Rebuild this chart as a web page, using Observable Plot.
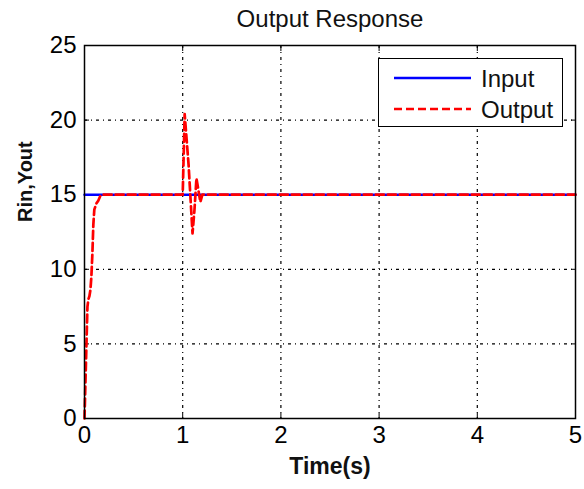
<!DOCTYPE html>
<html>
<head>
<meta charset="utf-8">
<script src="https://cdn.jsdelivr.net/npm/d3@7"></script>
<script src="https://cdn.jsdelivr.net/npm/@observablehq/plot@0.6"></script>
<style>
  body { margin: 0; background: #fff; }
  #wrap { position: relative; width: 584px; height: 489px; font-family: "Liberation Sans", Arial, sans-serif; }
  #legend { position: absolute; left: 378px; top: 58px; width: 185px; height: 69px; border: 1.5px solid #000; background: #fff; box-sizing: border-box; }
  #legend svg { position: absolute; left: 0; top: 0; }
</style>
</head>
<body>
<div id="wrap"></div>
<script>
// Data
const inputTime = [0, 5];
const inputValue = [15, 15];
const outputTime = [0, 0.01, 0.02, 0.03, 0.04, 0.05, 0.06, 0.07, 0.08, 0.09, 0.10, 0.11, 0.12, 0.14, 0.16, 0.18, 0.20, 0.5, 1.0, 1.02, 1.06, 1.10, 1.12, 1.14, 1.16, 1.18, 1.20, 1.25, 5];
const outputValue = [0, 2.5, 5, 7.5, 8, 8.2, 8.6, 9.5, 11, 13, 14, 14.2, 14.4, 14.6, 14.9, 15, 15, 15, 15, 20.4, 17, 12.4, 14, 16.1, 15.3, 14.5, 15, 15, 15];
const xTicks = [0, 1, 2, 3, 4, 5];
const yTicks = [0, 5, 10, 15, 20, 25];
const seriesNames = ["Input", "Output"];
const seriesColors = ["#0000ff", "#ff0000"];

const inputData = inputTime.map((t, i) => ({t, v: inputValue[i]}));
const outputData = outputTime.map((t, i) => ({t, v: outputValue[i]}));

const font = "Liberation Sans, Arial, sans-serif";
const gridDash = "3,4,1,4";

const chart = Plot.plot({
  width: 584,
  height: 489,
  marginLeft: 84,
  marginRight: 9,
  marginTop: 45,
  marginBottom: 71,
  style: {fontFamily: font, fontSize: "24px", color: "#000", background: "#fff"},
  x: {domain: [0, 5]},
  y: {domain: [0, 25]},
  marks: [
    Plot.ruleX(xTicks.slice(1, -1), {stroke: "#000", strokeWidth: 1.2, strokeDasharray: gridDash}),
    Plot.ruleY(yTicks.slice(1, -1), {stroke: "#000", strokeWidth: 1.2, strokeDasharray: gridDash}),
    Plot.axisX({anchor: "bottom", ticks: xTicks, tickSize: -5, tickPadding: 12, tickFormat: d3.format("d"), label: null, fontSize: 24}),
    Plot.axisX({anchor: "top", ticks: xTicks, tickSize: -5, tickFormat: () => "", label: null}),
    Plot.axisY({anchor: "left", ticks: yTicks, tickSize: -5, tickPadding: 13, tickFormat: d3.format("d"), label: null, fontSize: 24}),
    Plot.axisY({anchor: "right", ticks: yTicks, tickSize: -5, tickFormat: () => "", label: null}),
    Plot.line(inputData, {x: "t", y: "v", stroke: seriesColors[0], strokeWidth: 2.5}),
    Plot.line(outputData, {x: "t", y: "v", stroke: seriesColors[1], strokeWidth: 2.7, strokeDasharray: "8,4"}),
    Plot.frame({stroke: "#000", strokeWidth: 1.5}),
    Plot.text(["Output Response"], {frameAnchor: "top", lineAnchor: "middle", dy: -26, fontSize: 24, fill: "#111"}),
    Plot.text(["Time(s)"], {frameAnchor: "bottom", lineAnchor: "middle", dy: 48, fontSize: 23, fontWeight: "bold", fill: "#111"}),
    Plot.text(["Rin,Yout"], {frameAnchor: "left", lineAnchor: "middle", dx: -59, dy: -10, rotate: -90, fontSize: 20, fontWeight: "bold", fill: "#111"})
  ]
});

const wrap = document.getElementById("wrap");
wrap.appendChild(chart);

// Legend
const legend = document.createElement("div");
legend.id = "legend";
const ns = "http://www.w3.org/2000/svg";
const lsvg = document.createElementNS(ns, "svg");
lsvg.setAttribute("width", "185");
lsvg.setAttribute("height", "69");
seriesNames.forEach((name, i) => {
  const y = 19 + i * 31;
  const line = document.createElementNS(ns, "line");
  line.setAttribute("x1", 15); line.setAttribute("x2", 92);
  line.setAttribute("y1", y); line.setAttribute("y2", y);
  line.setAttribute("stroke", seriesColors[i]);
  line.setAttribute("stroke-width", "2.5");
  if (i === 1) line.setAttribute("stroke-dasharray", "8,4");
  lsvg.appendChild(line);
  const txt = document.createElementNS(ns, "text");
  txt.setAttribute("x", 102); txt.setAttribute("y", y + 9);
  txt.setAttribute("font-size", "24");
  txt.setAttribute("font-family", font);
  txt.setAttribute("fill", "#111");
  txt.textContent = name;
  lsvg.appendChild(txt);
});
legend.appendChild(lsvg);
wrap.appendChild(legend);
</script>
</body>
</html>
